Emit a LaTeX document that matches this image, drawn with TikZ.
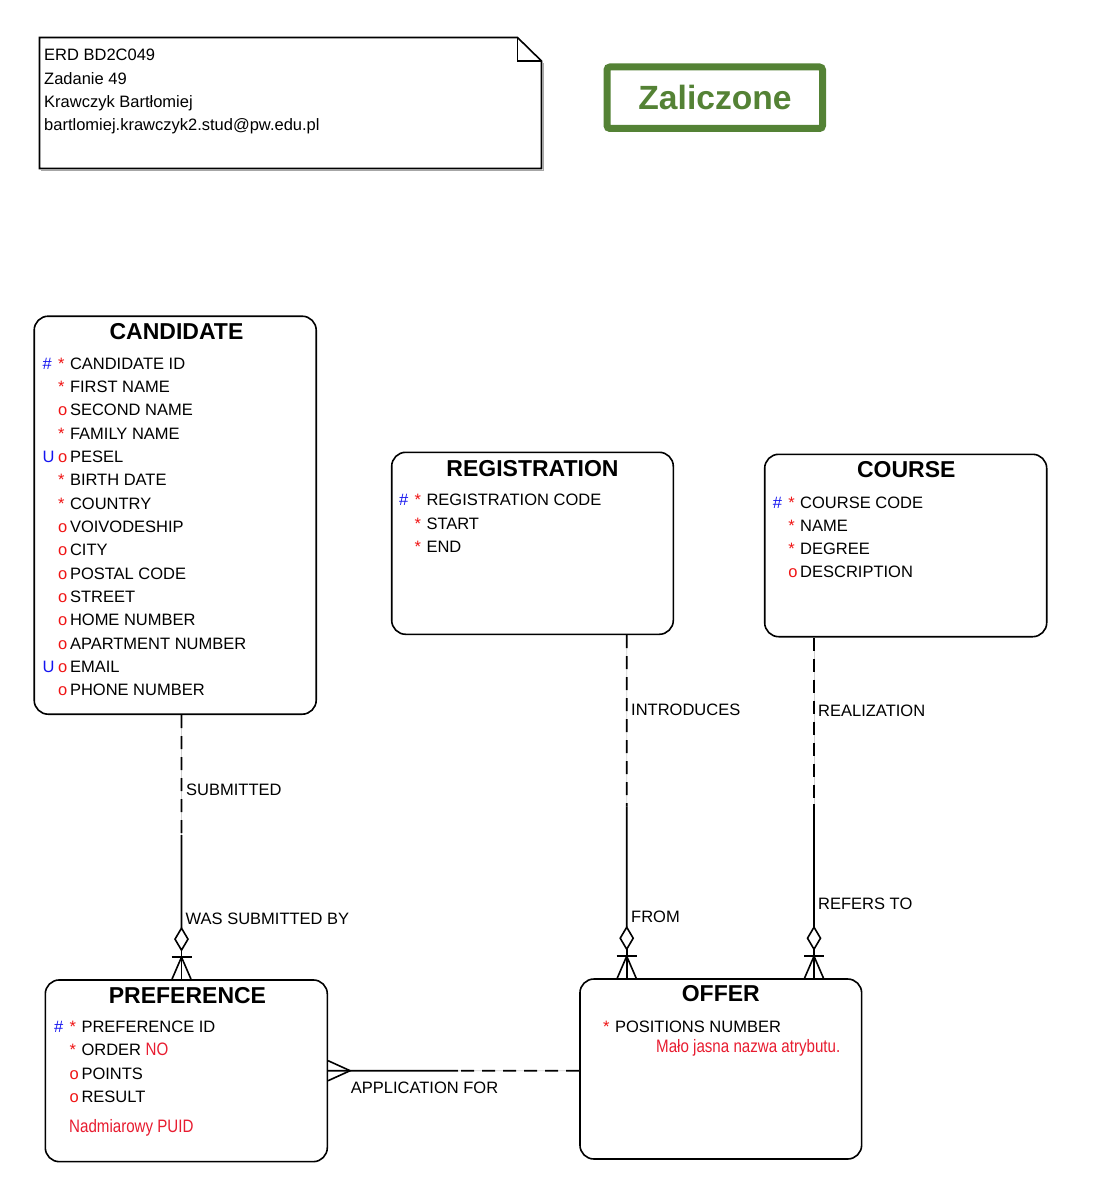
\documentclass[tikz,border=0pt]{standalone}
\usepackage{fontspec}
\setmainfont{Liberation Sans}
\newfontfamily\narrowfont[FakeStretch=0.84]{Liberation Sans}
\usetikzlibrary{calc}
\definecolor{idblue}{RGB}{20,20,240}
\definecolor{attred}{RGB}{240,20,20}
\definecolor{notered}{RGB}{232,28,48}
\definecolor{okgreen}{RGB}{84,130,53}
\newcommand\pk{\textcolor{idblue}{\#}}
\newcommand\uk{\textcolor{idblue}{U}}
\newcommand\mand{\textcolor{attred}{*}}
\newcommand\opt{\textcolor{attred}{o}}
\newcommand\pf[2]{\makebox[15.5pt][l]{#1}\makebox[11.8pt][l]{#2}}
\newcommand\remfont{\narrowfont\fontsize{18}{20}\selectfont}
\newcommand\crowdown[1]{%
  \draw[conn] (#1) ++(0,-29) -- (#1);
  \draw[conn,fill=white] (#1) ++(0,-51) -- ++(6.5,11) -- ++(-6.5,11) -- ++(-6.5,-11) -- cycle;
  \draw[conn] (#1) ++(-10,-22) -- ++(20,0);
  \draw[conn] (#1) ++(-9.5,0) -- ++(9.5,-22) -- ++(9.5,22);
}
\begin{document}
\begin{tikzpicture}[x=1pt,y=-1pt,
  entity/.style={draw, line width=1.6pt, rounded corners=14pt, inner sep=0pt, fill=white},
  etitle/.style={font=\fontsize{23}{27}\selectfont\bfseries, anchor=base, inner sep=0pt},
  attr/.style={font=\fontsize{16.5}{20}\selectfont, anchor=base west, inner sep=0pt},
  rem/.style={font=\remfont, text=notered, anchor=base west, inner sep=0pt},
  lbl/.style={font=\fontsize{16.5}{20}\selectfont, anchor=base west, inner sep=0pt},
  conn/.style={line width=1.6pt},
  optconn/.style={line width=1.6pt, dash pattern=on 13pt off 8pt},
  under/.style={line width=0.8pt, black!18},
]
\useasboundingbox[fill=white] (0,0) rectangle (1119,1180);

% ---- note ----
\draw[black!35, line width=1pt] (41,170.5) -- (543.5,170.5) -- (543.5,63);
\draw[line width=1.6pt, fill=white] (39.5,37.5) -- (517.5,37.5) -- (541.5,61) -- (541.5,168.5) -- (39.5,168.5) -- cycle;
\draw[line width=1.6pt] (517.5,37.5) -- (517.5,61) -- (541.5,61);
\node[lbl] (note1) at (44,61) {ERD BD2C049};
\node[lbl] (note2) at (44,84.3) {Zadanie 49};
\node[lbl] (note3) at (44,107.6) {Krawczyk Bartłomiej};
\node[lbl] (note4) at (44,130.9) {bartlomiej.krawczyk2.stud@pw.edu.pl};

% ---- stamp ----
\draw[okgreen, line width=7pt, rounded corners=3pt] (607,67) rectangle (822.5,128.5);
\node[font=\fontsize{33.6}{36}\selectfont\bfseries, text=okgreen, anchor=base, inner sep=0pt] (ok) at (715,110) {Zaliczone};

% ---- entities ----
\node[entity, minimum width=282pt, minimum height=398pt] (cand) at (175.2,515.2) {};
\node[entity, minimum width=281.6pt, minimum height=182pt] (reg) at (532.5,543.3) {};
\node[entity, minimum width=282pt, minimum height=182.4pt] (course) at (905.7,545.5) {};
\node[entity, minimum width=282pt, minimum height=181.7pt] (pref) at (186.3,1070.8) {};
\node[entity, minimum width=281.7pt, minimum height=180pt] (offer) at (720.8,1069) {};

\node[etitle] (cand-t) at (176.5,339.2) {CANDIDATE};
\node[etitle] (reg-t) at (532.5,476.5) {REGISTRATION};
\node[etitle] (course-t) at (906.3,477.2) {COURSE};
\node[etitle] (pref-t) at (187.5,1003.2) {PREFERENCE};
\node[etitle] (offer-t) at (720.8,1001.5) {OFFER};

\foreach \a/\b/\t [count=\i from 0] in {
  \pk/\mand/CANDIDATE ID, /\mand/FIRST NAME, /\opt/SECOND NAME, /\mand/FAMILY NAME,
  \uk/\opt/PESEL, /\mand/BIRTH DATE, /\mand/COUNTRY, /\opt/VOIVODESHIP, /\opt/CITY,
  /\opt/POSTAL CODE, /\opt/STREET, /\opt/HOME NUMBER, /\opt/APARTMENT NUMBER,
  \uk/\opt/EMAIL, /\opt/PHONE NUMBER}
  \node[attr] (cand-a\i) at (42.5,{369.2+23.33*\i}) {\pf{\a}{\b}\t};

\foreach \a/\b/\t [count=\i from 0] in {
  \pk/\mand/REGISTRATION CODE, /\mand/START, /\mand/END}
  \node[attr] (reg-a\i) at (399,{505.9+23.33*\i}) {\pf{\a}{\b}\t};

\foreach \a/\b/\t [count=\i from 0] in {
  \pk/\mand/COURSE CODE, /\mand/NAME, /\mand/DEGREE, /\opt/DESCRIPTION}
  \node[attr] (course-a\i) at (772.7,{508.2+23.2*\i}) {\pf{\a}{\b}\t};

\node[attr] (pref-a0) at (54,1032.6) {\pf{\pk}{\mand}PREFERENCE ID};
\node[attr] (pref-a1) at (54,1055.9) {\pf{}{\mand}ORDER {\remfont\textcolor{notered}{NO}}};
\node[attr] (pref-a2) at (54,1079.2) {\pf{}{\opt}POINTS};
\node[attr] (pref-a3) at (54,1102.5) {\pf{}{\opt}RESULT};
\node[rem] (pref-r) at (69,1132.2) {Nadmiarowy PUID};

\node[attr] (offer-a0) at (587.5,1032.6) {\pf{}{\mand}POSITIONS NUMBER};
\node[rem] (offer-r) at (656,1052.2) {Mało jasna nazwa atrybutu.};

% ---- CANDIDATE -- PREFERENCE ----
\coordinate (s1) at (181.5,0 |- cand.south);
\coordinate (e1) at (181.5,0 |- pref.north);
\coordinate (m1) at ($(s1)!0.455!(e1)$);
\draw[under] (s1) -- (m1);
\draw[optconn] (s1) -- (m1);
\draw[conn] (m1) -- ($(e1)+(0,-51)$);
\crowdown{e1}
\node[lbl] (l1a) at (186,795.9) {SUBMITTED};
\node[lbl] (l1b) at (185.5,924.9) {WAS SUBMITTED BY};

% ---- REGISTRATION -- OFFER ----
\coordinate (s2) at (626.7,0 |- reg.south);
\coordinate (e2) at (626.7,0 |- offer.north);
\coordinate (m2) at ($(s2)!0.5!(e2)$);
\draw[under] (s2) -- (m2);
\draw[optconn] (s2) -- (m2);
\draw[conn] (m2) -- ($(e2)+(0,-51)$);
\crowdown{e2}
\node[lbl] (l2a) at (631,715.2) {INTRODUCES};
\node[lbl] (l2b) at (631,922.6) {FROM};

% ---- COURSE -- OFFER ----
\coordinate (s3) at (814,0 |- course.south);
\coordinate (e3) at (814,0 |- offer.north);
\coordinate (m3) at ($(s3)!0.49!(e3)$);
\draw[under] (s3) -- (m3);
\draw[optconn] (s3) -- (m3);
\draw[conn] (m3) -- ($(e3)+(0,-51)$);
\crowdown{e3}
\node[lbl] (l3a) at (818,716) {REALIZATION};
\node[lbl] (l3b) at (818,909.9) {REFERS TO};

% ---- PREFERENCE -- OFFER ----
\coordinate (s4) at (pref.east |- 0,1070.7);
\coordinate (e4) at (offer.west |- 0,1070.7);
\coordinate (m4) at ($(s4)!0.518!(e4)$);
\draw[conn] (s4) -- (m4);
\draw[under] (m4) -- (e4);
\draw[optconn] (e4) -- (m4);
\draw[conn] (s4) ++(0,-10) -- ++(22,10) -- ++(-22,10);
\node[lbl] (l4) at (350.7,1093.6) {APPLICATION FOR};
\end{tikzpicture}
\end{document}
